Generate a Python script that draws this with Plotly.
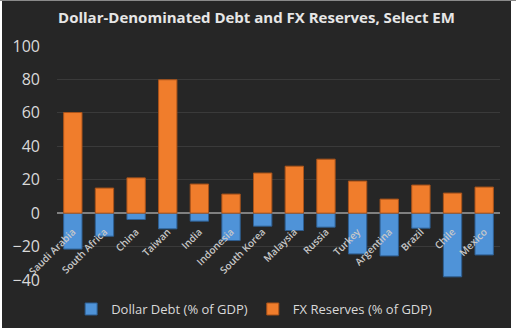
import plotly.graph_objects as go

countries = ["Saudi Arabia", "South Africa", "China", "Taiwan", "India", "Indonesia",
             "South Korea", "Malaysia", "Russia", "Turkey", "Argentina", "Brazil",
             "Chile", "Mexico"]
dollar_debt = [-21.5, -13.8, -3.8, -9.4, -4.8, -16.4, -7.8, -10.4, -8.4, -24.4, -25.6, -9.0, -38.1, -25.0]
fx_reserves = [60.2, 15.0, 21.1, 79.8, 17.4, 11.4, 24.0, 28.1, 32.3, 19.2, 8.4, 16.8, 12.0, 15.6]
y_ticks = [-40, -20, 0, 20, 40, 60, 80, 100]

BG = "#262626"
W, H = 516, 331
L, R, T, B = 57, 16, 46, 51
PW, PH = W - L - R, H - T - B


def px_x(p):
    return (p - L) / PW


def px_y(p):
    return (H - B - p) / PH


fig = go.Figure()
fig.add_trace(go.Bar(x=countries, y=dollar_debt, name="Dollar Debt (% of GDP)",
                     marker=dict(color="#4F93D8", line=dict(color="#2E5F92", width=1))))
fig.add_trace(go.Bar(x=countries, y=fx_reserves, name="FX Reserves (% of GDP)",
                     marker=dict(color="#F07D2C", line=dict(color="#A9531A", width=1))))

# white page edges around the dark chart area
edge = dict(type="rect", xref="paper", yref="paper", fillcolor="white",
            line=dict(width=0), layer="above")
shapes = [
    dict(edge, x0=px_x(511), x1=px_x(W + 5), y0=px_y(H + 5), y1=px_y(-5)),
    dict(edge, x0=px_x(-5), x1=px_x(W + 5), y0=px_y(328), y1=px_y(H + 5)),
    dict(edge, x0=px_x(-5), x1=px_x(2), y0=px_y(H + 5), y1=px_y(-5)),
    dict(edge, x0=px_x(-5), x1=px_x(W + 5), y0=px_y(1), y1=px_y(-5), fillcolor="#8a8a8a"),
]

ymin, ymax = -40, 100
fig.update_layout(
    width=W, height=H,
    barmode="relative", bargap=0.42,
    paper_bgcolor=BG, plot_bgcolor=BG,
    margin=dict(l=L, r=R, t=T, b=B, autoexpand=False),
    shapes=shapes,
    title=dict(text="<b>Dollar-Denominated Debt and FX Reserves, Select EM</b>",
               x=0.497, xanchor="center", y=0.945, yanchor="middle",
               font=dict(family="Open Sans", size=15, color="#e6e6e6")),
    font=dict(family="Open Sans", color="#d9d9d9"),
    showlegend=True,
    legend=dict(orientation="h", x=0.445, xanchor="center", y=-0.06, yanchor="top",
                font=dict(size=13, color="#d9d9d9"), itemwidth=30,
                traceorder="normal"),
    xaxis=dict(anchor="free", position=(0 - ymin) / (ymax - ymin), automargin=False,
               tickangle=-45,
               tickfont=dict(size=10, color="#c8c8c8", family="Open Sans", weight=600),
               showgrid=False, showline=False, ticks="outside", ticklen=8,
               tickcolor="rgba(0,0,0,0)"),
    yaxis=dict(range=[ymin, ymax], tickvals=y_ticks, automargin=False,
               tickfont=dict(size=16, color="#d9d9d9"),
               gridcolor="#3a3a3a", gridwidth=1, zeroline=True, zerolinecolor="#808080",
               zerolinewidth=2, ticklabelstandoff=16, showline=False),
)
fig.write_html("out.html")
